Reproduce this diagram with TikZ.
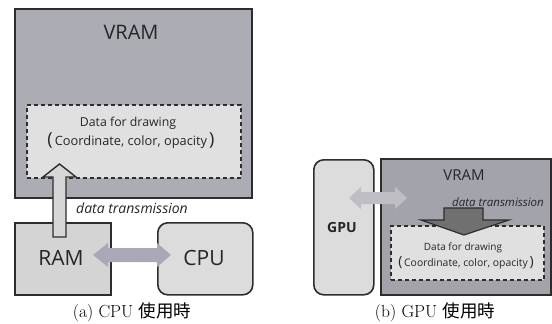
\documentclass[tikz,border=0pt]{standalone}
\usepackage{fontspec}
\setsansfont{Open Sans}
\newfontfamily\jpfont{Noto Sans CJK JP}
\definecolor{edge}{RGB}{45,45,45}
\definecolor{vramfill}{RGB}{172,172,180}
\definecolor{vramfillb}{RGB}{163,163,172}
\definecolor{datafill}{RGB}{224,224,224}
\definecolor{memfill}{RGB}{212,212,212}
\definecolor{procfill}{RGB}{220,220,220}
\definecolor{linkfill}{RGB}{168,168,184}
\definecolor{linkfillb}{RGB}{190,190,196}
\definecolor{upfill}{RGB}{214,214,214}
\definecolor{downfill}{RGB}{112,112,112}
\tikzset{
  unitbox/.style={draw=edge, line width=1.6pt, anchor=north west, inner sep=0pt},
  databox/.style={draw=edge, line width=1.6pt, dash pattern=on 4pt off 3pt, fill=datafill, anchor=north west, inner sep=0pt},
  label/.style={font=\sffamily, text=black!85, inner sep=0pt},
  caption/.style={font=\fontsize{17.5}{19}\selectfont, inner sep=0pt},
}
\begin{document}
\begin{tikzpicture}[x=1pt,y=-1pt]
\useasboundingbox (0,0) rectangle (552,324);
\fill[white] (0,0) rectangle (552,324);

% ---------- (a) CPU side ----------
\node[unitbox, fill=vramfill, minimum width=237pt, minimum height=189pt] (vramA) at (14,8) {};
\node[databox, minimum width=214pt, minimum height=73pt] (dataA) at (26,104) {};
\node[unitbox, fill=memfill, minimum width=96pt, minimum height=72pt] (ramA) at (14,222) {};
\node[unitbox, fill=procfill, rounded corners=10pt, minimum width=95pt, minimum height=72pt] (cpuA) at (157,222) {};

\node[label, font=\sffamily\fontsize{20}{22}\selectfont] (vramAtxt) at (131,32) {VRAM};
\node[label, font=\sffamily\fontsize{12.3}{14}\selectfont] (dataA1) at (128,123) {Data for drawing};
\node[label, font=\sffamily\fontsize{12.8}{14}\selectfont] (dataA2) at (131,141)
  {{\fontsize{18}{18}\selectfont(}\,Coordinate, color, opacity\,{\fontsize{18}{18}\selectfont)}};

% upward transfer arrow from RAM into VRAM
\filldraw[draw=edge, line width=1.4pt, fill=upfill, line join=miter]
  (53,237) -- (53,177) -- (43,177) -- (59.5,164) -- (76,177) -- (66,177) -- (66,237) -- cycle;
\node[label, font=\sffamily\itshape\fontsize{14}{16}\selectfont] (transA) at (132,208) {data transmission};

% RAM <-> CPU link
\fill[linkfill] (93,255) -- (108,243) -- (108,248) -- (157,248) -- (157,243) -- (171,255)
  -- (157,267) -- (157,262) -- (108,262) -- (108,267) -- cycle;

\node[label, font=\sffamily\fontsize{21}{23}\selectfont] (ramAtxt) at (61,258) {RAM};
\node[label, font=\sffamily\fontsize{21}{23}\selectfont] (cpuAtxt) at (204,258) {CPU};

\node[caption] (capA) at (132,312) {(a) CPU {\jpfont 使用時}};

% ---------- (b) GPU side ----------
\node[unitbox, fill=procfill, rounded corners=10pt, minimum width=60pt, minimum height=135pt] (gpuB) at (313,159) {};
\node[unitbox, fill=vramfillb, minimum width=170pt, minimum height=136pt] (vramB) at (380,158) {};
\node[databox, minimum width=153pt, minimum height=54pt] (dataB) at (390,225) {};

\node[label, font=\sffamily\fontsize{15}{17}\selectfont] (vramBtxt) at (464,175) {VRAM};
\node[label, font=\sffamily\bfseries\fontsize{14}{16}\selectfont] (gpuBtxt) at (342,227) {GPU};

% GPU <-> VRAM link
\fill[linkfillb] (349,198) -- (361,187) -- (361,192) -- (395,192) -- (395,187) -- (407,198)
  -- (395,209) -- (395,204) -- (361,204) -- (361,209) -- cycle;

% downward transfer arrow into the drawing data
\filldraw[draw=edge, line width=1.2pt, fill=downfill, line join=miter]
  (444,208) -- (483,208) -- (483,220) -- (509,220) -- (464,235) -- (421,220) -- (444,220) -- cycle;
\node[label, font=\sffamily\itshape\fontsize{11.5}{13}\selectfont] (transB) at (498,202) {data transmission};

\node[label, font=\sffamily\fontsize{10}{12}\selectfont] (dataB1) at (463,248) {Data for drawing};
\node[label, font=\sffamily\fontsize{10.4}{12}\selectfont] (dataB2) at (466,263)
  {{\fontsize{14}{14}\selectfont(}\,Coordinate, color, opacity\,{\fontsize{14}{14}\selectfont)}};

\node[caption] (capB) at (435,312) {(b) GPU {\jpfont 使用時}};
\end{tikzpicture}
\end{document}
